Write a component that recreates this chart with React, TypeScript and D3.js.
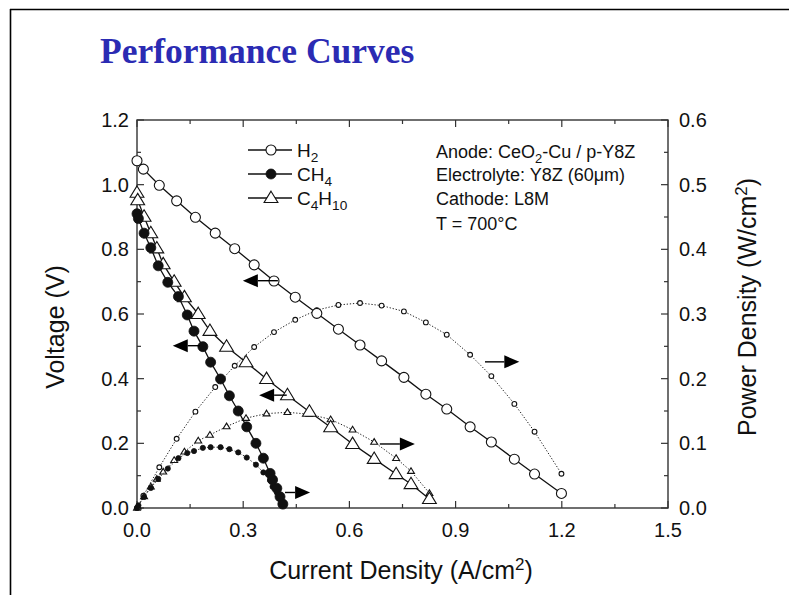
import React from "react";
import * as d3 from "d3";

// ---------- data ----------
const h2Current = [0, 0.018, 0.063, 0.112, 0.165, 0.221, 0.276, 0.331, 0.387, 0.447, 0.508, 0.569, 0.63, 0.691, 0.754, 0.816, 0.875, 0.941, 1.001, 1.066, 1.123, 1.199];
const h2Voltage = [1.074, 1.048, 0.998, 0.95, 0.899, 0.85, 0.802, 0.752, 0.702, 0.652, 0.602, 0.553, 0.504, 0.455, 0.404, 0.352, 0.306, 0.251, 0.204, 0.151, 0.105, 0.045];
const h2Power = [0, 0.019, 0.063, 0.107, 0.149, 0.187, 0.22, 0.249, 0.272, 0.291, 0.306, 0.314, 0.317, 0.313, 0.304, 0.287, 0.268, 0.237, 0.204, 0.161, 0.118, 0.053];

const ch4Current = [0, 0.004, 0.02, 0.039, 0.06, 0.087, 0.117, 0.142, 0.161, 0.186, 0.208, 0.236, 0.261, 0.286, 0.31, 0.336, 0.357, 0.376, 0.383, 0.395, 0.404, 0.412];
const ch4Voltage = [0.91, 0.895, 0.85, 0.805, 0.749, 0.698, 0.654, 0.597, 0.547, 0.499, 0.451, 0.399, 0.347, 0.3, 0.251, 0.2, 0.154, 0.107, 0.087, 0.061, 0.035, 0.012];
const ch4Power = [0, 0.004, 0.017, 0.031, 0.045, 0.061, 0.077, 0.085, 0.088, 0.093, 0.094, 0.094, 0.091, 0.086, 0.078, 0.067, 0.055, 0.043, 0.033, 0.024, 0.014, 0.005];

const c4h10Current = [0, 0.002, 0.02, 0.039, 0.056, 0.074, 0.105, 0.134, 0.173, 0.206, 0.253, 0.308, 0.366, 0.425, 0.487, 0.547, 0.609, 0.67, 0.732, 0.774, 0.826];
const c4h10Voltage = [0.975, 0.952, 0.901, 0.85, 0.803, 0.754, 0.7, 0.652, 0.6, 0.548, 0.499, 0.451, 0.399, 0.349, 0.298, 0.25, 0.198, 0.152, 0.105, 0.074, 0.028];
const c4h10Power = [0, 0.002, 0.018, 0.033, 0.045, 0.056, 0.074, 0.087, 0.104, 0.113, 0.126, 0.139, 0.146, 0.148, 0.145, 0.137, 0.121, 0.102, 0.077, 0.057, 0.023];

const xTicks = [0, 0.3, 0.6, 0.9, 1.2, 1.5];
const xTickLabels = ["0.0", "0.3", "0.6", "0.9", "1.2", "1.5"];
const vTicks = [0, 0.2, 0.4, 0.6, 0.8, 1.0, 1.2];
const vTickLabels = ["0.0", "0.2", "0.4", "0.6", "0.8", "1.0", "1.2"];
const pTicks = [0, 0.1, 0.2, 0.3, 0.4, 0.5, 0.6];
const pTickLabels = ["0.0", "0.1", "0.2", "0.3", "0.4", "0.5", "0.6"];

const annotationLines = ["Anode: CeO|2|-Cu / p-Y8Z", "Electrolyte: Y8Z (60μm)", "Cathode: L8M", "T = 700°C"];

// arrows: [x tail, x tip, y value, axis]
const arrows: { x1: number; x2: number; y: number; axis: "v" | "p" }[] = [
  { x1: 0.398, x2: 0.299, y: 0.703, axis: "v" },
  { x1: 0.178, x2: 0.101, y: 0.502, axis: "v" },
  { x1: 0.423, x2: 0.345, y: 0.349, axis: "v" },
  { x1: 0.983, x2: 1.08, y: 0.226, axis: "p" },
  { x1: 0.686, x2: 0.785, y: 0.099, axis: "p" },
  { x1: 0.418, x2: 0.489, y: 0.024, axis: "p" },
];

// ---------- layout ----------
const W = 789, H = 595;
const L = 137, R = 668, T = 120, B = 508;
const FONT = "'Liberation Sans', Arial, sans-serif";

const x = d3.scaleLinear().domain([0, 1.5]).range([L, R]);
const yV = d3.scaleLinear().domain([0, 1.2]).range([B, T]);
const yP = d3.scaleLinear().domain([0, 0.6]).range([B, T]);

type Pt = [number, number];
const zip = (a: number[], b: number[]): Pt[] => a.map((v, i) => [v, b[i]]);

const lineV = d3.line<Pt>().x((d) => x(d[0])).y((d) => yV(d[1]));
const lineP = d3.line<Pt>().x((d) => x(d[0])).y((d) => yP(d[1]));

function Marker({ kind, cx, cy, size }: { kind: string; cx: number; cy: number; size: number }) {
  if (kind === "circle")
    return <circle cx={cx} cy={cy} r={size} fill="#fff" stroke="#111" strokeWidth={1.1} />;
  if (kind === "dot") return <circle cx={cx} cy={cy} r={size} fill="#111" stroke="#111" strokeWidth={0.8} />;
  const h = size * 1.9;
  const w = size * 1.15;
  return (
    <path
      d={`M${cx},${cy - h * 0.6}L${cx + w},${cy + h * 0.4}L${cx - w},${cy + h * 0.4}Z`}
      fill="#fff"
      stroke="#111"
      strokeWidth={1.1}
    />
  );
}

function Sub({ text, size }: { text: string; size: number }) {
  const parts = text.split("|");
  return (
    <>
      {parts.map((p, i) =>
        i % 2 === 1 ? (
          <tspan key={i} fontSize={size * 0.72} dy={size * 0.25}>
            {p}
          </tspan>
        ) : (
          <tspan key={i} dy={i === 0 ? 0 : -size * 0.25}>
            {p}
          </tspan>
        )
      )}
    </>
  );
}

export default function App() {
  const series = [
    { I: h2Current, V: h2Voltage, P: h2Power, kind: "circle", small: "circle", big: 5, sm: 2.4 },
    { I: c4h10Current, V: c4h10Voltage, P: c4h10Power, kind: "tri", small: "tri", big: 6, sm: 3 },
    { I: ch4Current, V: ch4Voltage, P: ch4Power, kind: "dot", small: "dot", big: 5, sm: 2.6 },
  ];

  const xMinor = d3.range(0, 1.5001, 0.15);
  const vMinor = d3.range(0, 1.2001, 0.1);
  const pMinor = d3.range(0, 0.6001, 0.05);

  const legend = [
    { label: "H|2|", kind: "circle", size: 5 },
    { label: "CH|4|", kind: "dot", size: 5 },
    { label: "C|4|H|10|", kind: "tri", size: 6 },
  ];

  return (
    <svg width={W} height={H} style={{ position: "absolute", left: 0, top: 0, background: "#fff" }} fontFamily={FONT}>
      <rect x={0} y={0} width={W} height={H} fill="#fff" />
      {/* slide border */}
      <line x1={10.5} y1={9} x2={10.5} y2={H} stroke="#000" strokeWidth={1.6} />
      <line x1={10} y1={9.5} x2={W} y2={9.5} stroke="#000" strokeWidth={1.6} />

      {/* title */}
      <text x={100} y={63} fontFamily="'Liberation Serif', 'Times New Roman', serif" fontWeight="bold" fontSize={35.5} fill="#2b2bb3">
        Performance Curves
      </text>

      {/* frame */}
      <rect x={L} y={T} width={R - L} height={B - T} fill="none" stroke="#333" strokeWidth={1.4} />

      {/* ticks */}
      {xMinor.map((t, i) => {
        const major = i % 2 === 0;
        const len = major ? 7 : 4;
        return (
          <g key={"xt" + i} stroke="#333" strokeWidth={1.2}>
            <line x1={x(t)} x2={x(t)} y1={B} y2={B - len} />
            <line x1={x(t)} x2={x(t)} y1={T} y2={T + len} />
          </g>
        );
      })}
      {vMinor.map((t, i) => {
        const major = i % 2 === 0;
        return <line key={"vt" + i} x1={L} x2={L + (major ? 7 : 4)} y1={yV(t)} y2={yV(t)} stroke="#333" strokeWidth={1.2} />;
      })}
      {pMinor.map((t, i) => {
        const major = i % 2 === 0;
        return <line key={"pt" + i} x1={R} x2={R - (major ? 7 : 4)} y1={yP(t)} y2={yP(t)} stroke="#333" strokeWidth={1.2} />;
      })}

      {/* tick labels */}
      {xTicks.map((t, i) => (
        <text key={"xl" + i} x={x(t)} y={537} fontSize={20} textAnchor="middle" fill="#111">
          {xTickLabels[i]}
        </text>
      ))}
      {vTicks.map((t, i) => (
        <text key={"vl" + i} x={129} y={yV(t) + 7} fontSize={20} textAnchor="end" fill="#111">
          {vTickLabels[i]}
        </text>
      ))}
      {pTicks.map((t, i) => (
        <text key={"pl" + i} x={679} y={yP(t) + 7} fontSize={20} textAnchor="start" fill="#111">
          {pTickLabels[i]}
        </text>
      ))}

      {/* axis titles */}
      <text x={401} y={579} fontSize={25} textAnchor="middle" fill="#111">
        Current Density (A/cm
        <tspan fontSize={17} dy={-9}>2</tspan>
        <tspan dy={9}>)</tspan>
      </text>
      <text transform={`translate(64,${327}) rotate(-90)`} fontSize={25} textAnchor="middle" fill="#111">
        Voltage (V)
      </text>
      <text transform={`translate(756,${307}) rotate(-90)`} fontSize={25} textAnchor="middle" fill="#111">
        Power Density (W/cm
        <tspan fontSize={17} dy={-9}>2</tspan>
        <tspan dy={9}>)</tspan>
      </text>

      {/* power curves (dotted) */}
      {series.map((s, si) => (
        <g key={"p" + si}>
          <path d={lineP(zip(s.I, s.P)) || ""} fill="none" stroke="#222" strokeWidth={1} strokeDasharray="1.3,1.8" />
          {s.I.map((v, i) => (
            <Marker key={i} kind={s.small} cx={x(v)} cy={yP(s.P[i])} size={s.sm} />
          ))}
        </g>
      ))}

      {/* voltage curves */}
      {series.map((s, si) => (
        <g key={"v" + si}>
          <path d={lineV(zip(s.I, s.V)) || ""} fill="none" stroke="#111" strokeWidth={1.3} />
          {s.I.map((v, i) => (
            <Marker key={i} kind={s.kind} cx={x(v)} cy={yV(s.V[i])} size={s.big} />
          ))}
        </g>
      ))}

      {/* arrows */}
      {arrows.map((a, i) => {
        const y = a.axis === "v" ? yV(a.y) : yP(a.y);
        const x1 = x(a.x1);
        const x2 = x(a.x2);
        const dir = x2 > x1 ? 1 : -1;
        const headLen = 15;
        const hb = x2 - dir * headLen;
        return (
          <g key={"a" + i}>
            <line x1={x1} y1={y} x2={hb} y2={y} stroke="#000" strokeWidth={1.4} />
            <path d={`M${x2},${y}L${hb},${y - 6.5}L${hb},${y + 6.5}Z`} fill="#000" />
          </g>
        );
      })}

      {/* legend */}
      {legend.map((l, i) => {
        const cy = 150 + i * 24;
        return (
          <g key={"lg" + i}>
            <line x1={248} x2={292} y1={cy} y2={cy} stroke="#111" strokeWidth={1.3} />
            <Marker kind={l.kind} cx={271} cy={cy} size={l.size} />
            <text x={297} y={cy + 7} fontSize={19} fill="#111">
              <Sub text={l.label} size={19} />
            </text>
          </g>
        );
      })}

      {/* annotation */}
      {annotationLines.map((t, i) => (
        <text key={"an" + i} x={436} y={[158, 181, 205, 230][i]} fontSize={18} fill="#111">
          <Sub text={t} size={18} />
        </text>
      ))}
    </svg>
  );
}
